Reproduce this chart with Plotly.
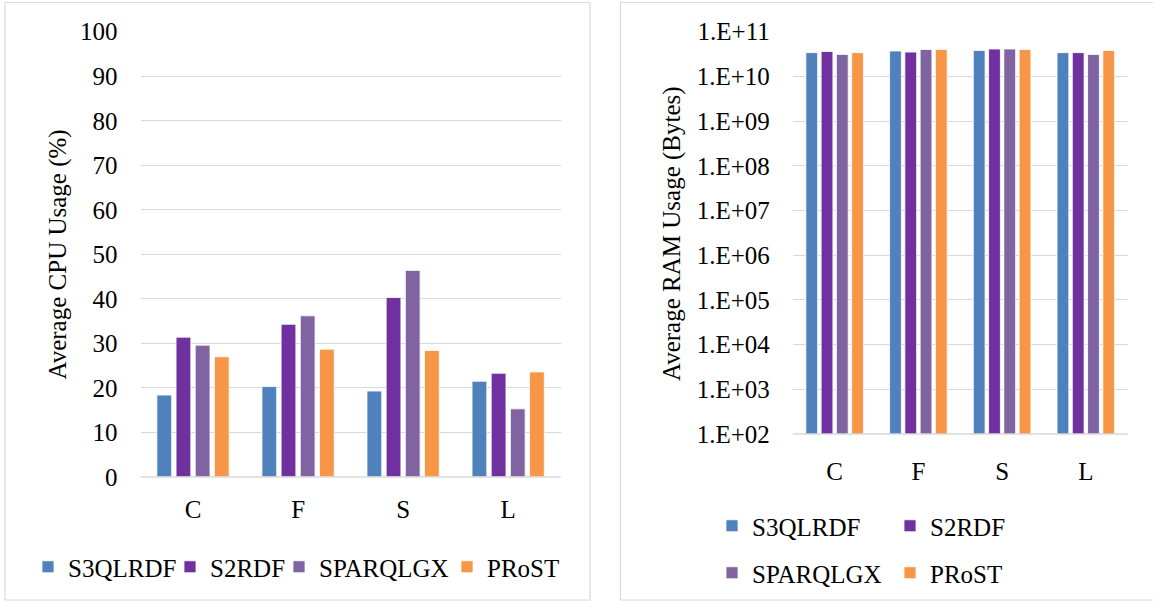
import plotly.graph_objects as go

# Query categories and systems
categories = ["C", "F", "S", "L"]
systems = ["S3QLRDF", "S2RDF", "SPARQLGX", "PRoST"]
colors = ["#4f81bd", "#7030a0", "#8064a2", "#f79646"]

# Average CPU usage (%)
cpu_s3qlrdf = [18.4, 20.3, 19.3, 21.5]
cpu_s2rdf = [31.4, 34.3, 40.3, 23.3]
cpu_sparqlgx = [29.6, 36.2, 46.4, 15.3]
cpu_prost = [27.0, 28.7, 28.4, 23.6]

# Average RAM usage (bytes)
ram_s3qlrdf = [3.4e10, 3.7e10, 3.8e10, 3.4e10]
ram_s2rdf = [3.6e10, 3.5e10, 4.1e10, 3.4e10]
ram_sparqlgx = [3.1e10, 4.0e10, 4.1e10, 3.1e10]
ram_prost = [3.4e10, 4.0e10, 4.0e10, 3.8e10]

cpu_tickvals = [0, 10, 20, 30, 40, 50, 60, 70, 80, 90, 100]
ram_tickvals = [1e2, 1e3, 1e4, 1e5, 1e6, 1e7, 1e8, 1e9, 1e10, 1e11]
ram_ticktext = ["1.E+02", "1.E+03", "1.E+04", "1.E+05", "1.E+06",
                "1.E+07", "1.E+08", "1.E+09", "1.E+10", "1.E+11"]

W, H = 1153, 602
FONT = "Liberation Serif"
FS = 25
GRID = "#d9d9d9"


def px(x):
    return x / W


def py(y):
    return 1 - y / H


cpu_series = [cpu_s3qlrdf, cpu_s2rdf, cpu_sparqlgx, cpu_prost]
ram_series = [ram_s3qlrdf, ram_s2rdf, ram_sparqlgx, ram_prost]

# One legend box per entry so each key sits at its own spot
cpu_legends = ["legend", "legend2", "legend3", "legend4"]
ram_legends = ["legend5", "legend6", "legend7", "legend8"]
legend_pos = {
    "legend": (28, 567), "legend2": (170, 567),
    "legend3": (279, 567), "legend4": (447, 567),
    "legend5": (712, 526), "legend6": (890, 526),
    "legend7": (712, 573), "legend8": (890, 573),
}

fig = go.Figure()

for name, color, vals, lg in zip(systems, colors, cpu_series, cpu_legends):
    fig.add_trace(go.Bar(
        x=categories, y=vals, name=name,
        marker=dict(color=color, line=dict(color="white", width=0.8)),
        xaxis="x", yaxis="y", legend=lg,
    ))

for name, color, vals, lg in zip(systems, colors, ram_series, ram_legends):
    fig.add_trace(go.Bar(
        x=categories, y=vals, name=name,
        marker=dict(color=color, line=dict(color="white", width=0.8)),
        xaxis="x2", yaxis="y2", legend=lg,
    ))

tick_font = dict(family=FONT, size=FS, color="black")

legends = {}
for key, (lx, ly) in legend_pos.items():
    legends[key] = dict(
        orientation="h", xanchor="left", yanchor="middle",
        x=px(lx), y=py(ly),
        font=dict(family=FONT, size=FS, color="black"),
        bgcolor="rgba(0,0,0,0)", itemwidth=30, itemclick=False,
    )

fig.update_layout(
    width=W, height=H,
    margin=dict(l=0, r=0, t=0, b=0, autoexpand=False),
    font=dict(family=FONT, size=FS, color="black"),
    paper_bgcolor="white", plot_bgcolor="white",
    barmode="group", bargap=0.27, bargroupgap=0.23,
    xaxis=dict(
        domain=[px(140.5), px(560.7)], anchor="y",
        showgrid=False, showline=False, zeroline=False,
        tickfont=tick_font, ticklabelstandoff=15,
    ),
    yaxis=dict(
        domain=[py(477), py(31.7)], anchor="x",
        range=[0, 100], tickvals=cpu_tickvals,
        showgrid=True, gridcolor=GRID, gridwidth=1.3,
        zeroline=False, showline=False,
        tickfont=tick_font, ticklabelstandoff=22,
    ),
    xaxis2=dict(
        domain=[px(792.8), px(1127.7)], anchor="y2",
        showgrid=False, showline=False, zeroline=False,
        tickfont=tick_font, ticklabelstandoff=20,
    ),
    yaxis2=dict(
        domain=[py(434), py(31.7)], anchor="x2",
        type="log", range=[2, 11],
        tickvals=ram_tickvals, ticktext=ram_ticktext,
        showgrid=True, gridcolor=GRID, gridwidth=1.3,
        zeroline=False, showline=False,
        tickfont=tick_font, ticklabelstandoff=22,
    ),
    showlegend=True,
    **legends,
)

# Axis baselines
fig.add_shape(type="line", xref="paper", yref="paper",
              x0=px(140.5), x1=px(560.7), y0=py(477), y1=py(477),
              line=dict(color=GRID, width=1.3))
fig.add_shape(type="line", xref="paper", yref="paper",
              x0=px(792.8), x1=px(1127.7), y0=py(434), y1=py(434),
              line=dict(color=GRID, width=1.3))

# Chart-area frames
fig.add_shape(type="rect", xref="paper", yref="paper",
              x0=px(5), x1=px(590), y0=py(600), y1=py(2.5),
              line=dict(color=GRID, width=1.2), layer="below")
fig.add_shape(type="rect", xref="paper", yref="paper",
              x0=px(620.5), x1=px(1160), y0=py(600), y1=py(2.5),
              line=dict(color=GRID, width=1.2), layer="below")

# Value-axis titles
fig.add_annotation(text="Average CPU Usage (%)", xref="paper", yref="paper",
                   x=px(57), y=py(254.5), textangle=-90, showarrow=False,
                   xanchor="center", yanchor="middle",
                   font=dict(family=FONT, size=FS, color="black"))
fig.add_annotation(text="Average RAM Usage (Bytes)", xref="paper", yref="paper",
                   x=px(672), y=py(233), textangle=-90, showarrow=False,
                   xanchor="center", yanchor="middle",
                   font=dict(family=FONT, size=FS, color="black"))

fig.write_html("out.html")
